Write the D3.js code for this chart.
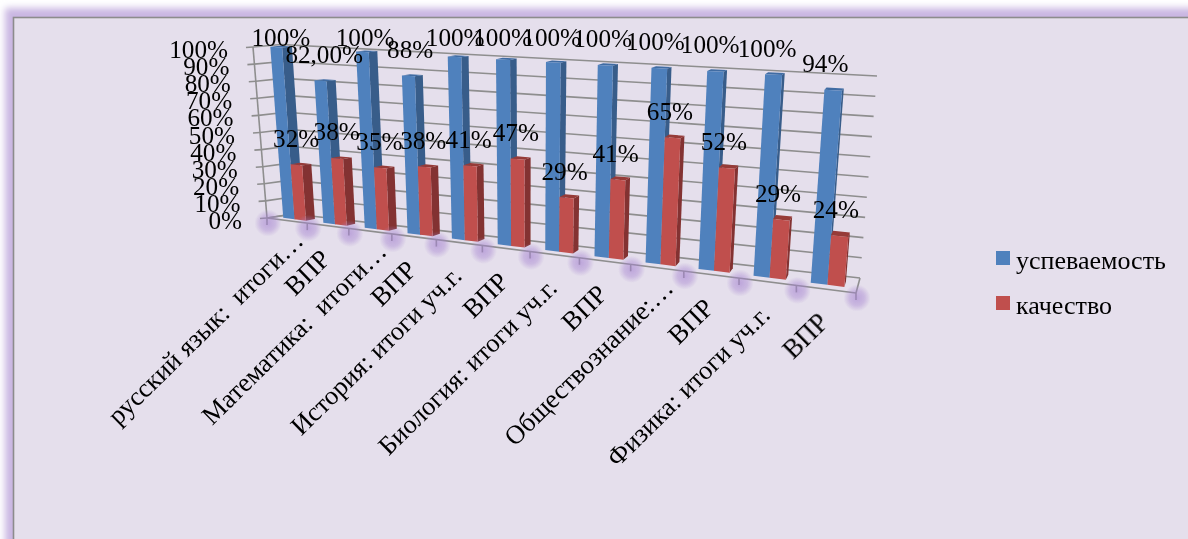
<!DOCTYPE html>
<html><head><meta charset="utf-8">
<script src="https://cdn.jsdelivr.net/npm/d3@7"></script>
<style>html,body{margin:0;padding:0;background:#fff;overflow:hidden}svg{display:block}
text{font-family:"Liberation Serif","Times New Roman",serif;fill:#000;white-space:pre}</style></head>
<body><div id="c"></div>
<script>
const categories = ["русский язык:  итоги…","ВПР","Математика:  итоги…","ВПР","История: итоги уч.г.","ВПР","Биология: итоги уч.г.","ВПР","Обществознание:…","ВПР","Физика: итоги уч.г.","ВПР"];
const seriesNames = ["успеваемость","качество"];
const uspevaemost = [1,0.82,1,0.88,1,1,1,1,1,1,1,0.94];
const kachestvo = [0.32,0.38,0.35,0.38,0.41,0.47,0.29,0.41,0.65,0.52,0.29,0.24];
const uspevLabels = ["100%","82,00%","100%","88%","100%","100%","100%","100%","100%","100%","100%","94%"];
const kachLabels = ["32%","38%","35%","38%","41%","47%","29%","41%","65%","52%","29%","24%"];
const valueTicks = [0,0.1,0.2,0.3,0.4,0.5,0.6,0.7,0.8,0.9,1];
const tickFormat = d3.format(".0%");

const W=1188,H=539;
const svg=d3.select("#c").append("svg").attr("width",W).attr("height",H);
const defs=svg.append("defs");
defs.append("filter").attr("id","glow").attr("x","-5%").attr("y","-5%").attr("width","110%").attr("height","110%")
  .append("feGaussianBlur").attr("stdDeviation",3.5);
defs.append("filter").attr("id","soft").attr("x","-2%").attr("y","-2%").attr("width","104%").attr("height","104%")
  .append("feGaussianBlur").attr("stdDeviation",0.4);
const rg=defs.append("radialGradient").attr("id","blob");
rg.append("stop").attr("offset","0%").attr("stop-color","#a583d0").attr("stop-opacity",.62);
rg.append("stop").attr("offset","55%").attr("stop-color","#a583d0").attr("stop-opacity",.42);
rg.append("stop").attr("offset","100%").attr("stop-color","#a583d0").attr("stop-opacity",0);

// frame
svg.append("rect").attr("x",5).attr("y",8).attr("width",W+40).attr("height",H+40).attr("fill","#c9b6e2").attr("filter","url(#glow)");
svg.append("rect").attr("x",13.5).attr("y",17.5).attr("width",W+40).attr("height",H+40).attr("fill","#e5dfec").attr("stroke","#8c8c8c").attr("stroke-width",1.6);

const root=svg.append("g").attr("filter","url(#soft)");

// 3D box: corners on screen; u = category coordinate, v = value, d = depth
const uScale=d3.scaleLinear().domain([0,categories.length]).range([0,1]);
const persp=u=>{const t=uScale(u);return t*0.807/(1-0.193*t);};
const vScale=d3.scaleLinear().domain([0,1]).range([0,1]);
const box={fb0:[267,218],fb1:[856,293],bb0:[293,214],bb1:[860,278],ft0:[253,47],ft1:[873,82],bt0:[281,44.5],bt1:[877,76]};
const mix=(a,b,t)=>[a[0]+(b[0]-a[0])*t,a[1]+(b[1]-a[1])*t];
function P(u,v,d){
  const s=persp(u),w=vScale(v);
  const fb=mix(box.fb0,box.fb1,s),bb=mix(box.bb0,box.bb1,s),ft=mix(box.ft0,box.ft1,s),bt=mix(box.bt0,box.bt1,s);
  return mix(mix(fb,ft,w),mix(bb,bt,w),d);
}
const line=pts=>d3.line()(pts);
const gridC="#8e8e8e";
const n=categories.length;

// walls
const grid=root.append("g").attr("fill","none").attr("stroke",gridC).attr("stroke-width",1.6);
grid.selectAll("path.back").data(valueTicks).join("path").attr("class","back").attr("d",v=>line([P(0,v,1),P(n,v,1)]));
grid.selectAll("path.side").data(valueTicks).join("path").attr("class","side").attr("d",v=>line([P(0,v,0),P(0,v,1)]));
grid.selectAll("path.tick").data(valueTicks).join("path").attr("class","tick").attr("d",v=>{const p=P(0,v,0);return line([[p[0]-7,p[1]+0.5],p]);});
grid.append("path").attr("d",line([P(0,1,0),P(0,0,0)]));
grid.append("path").attr("d",line([P(0,0,0),P(0,0,1)]));
grid.append("path").attr("d",line([P(n,0,1),P(n,0,0)]));
grid.append("path").attr("d",line([P(n,0,0),P(0,0,0)]));
grid.selectAll("path.xt").data(d3.range(n+1)).join("path").attr("class","xt").attr("d",i=>{const p=P(i,0,0);return line([p,[p[0],p[1]+7]]);});

// bars
const band=d3.scaleBand().domain(d3.range(n)).range([0,n]).paddingInner(0.43).paddingOuter(0.215);
const sub=d3.scaleBand().domain(seriesNames).range([0,band.bandwidth()]);
const dNear=0.3,dFar=0.66;
const colors={"успеваемость":{front:"#4f81bd",side:"#385d8a",top:"#3f6ca3"},"качество":{front:"#c0504d",side:"#833230",top:"#963a37"}};
const rows=[];
categories.forEach((c,i)=>{
  rows.push({i,s:seriesNames[0],v:uspevaemost[i],label:uspevLabels[i]});
  rows.push({i,s:seriesNames[1],v:kachestvo[i],label:kachLabels[i]});
});
const poly=pts=>"M"+pts.map(p=>p.join(",")).join("L")+"Z";
const gb=root.append("g").selectAll("g").data(rows).join("g");
gb.each(function(r){
  const g=d3.select(this),a=band(r.i)+sub(r.s),b=a+sub.bandwidth(),c=colors[r.s];
  g.append("path").attr("fill",c.side).attr("d",poly([P(b,0,dNear),P(b,r.v,dNear),P(b,r.v,dFar),P(b,0,dFar)]));
  g.append("path").attr("fill",c.top).attr("d",poly([P(a,r.v,dNear),P(b,r.v,dNear),P(b,r.v,dFar),P(a,r.v,dFar)]));
  g.append("path").attr("fill",c.front).attr("d",poly([P(a,0,dNear),P(b,0,dNear),P(b,r.v,dNear),P(a,r.v,dNear)]));
});

// glow blobs at category ticks
root.append("g").selectAll("circle").data(d3.range(n+1)).join("circle")
  .attr("cx",i=>P(i,0,0)[0]+1).attr("cy",i=>P(i,0,0)[1]+5).attr("r",13.5).attr("fill","url(#blob)");

// value axis labels
root.append("g").selectAll("text").data(valueTicks).join("text")
  .attr("x",v=>P(0,v,0)[0]-25).attr("y",v=>P(0,v,0)[1]+11).attr("text-anchor","end").attr("font-size",25.2).text(tickFormat);

// data labels
root.append("g").selectAll("text").data(rows).join("text")
  .attr("text-anchor","middle").attr("font-size",25.2)
  .attr("x",r=>{const m=band(r.i)+sub(r.s)+sub.bandwidth()/2,p=P(m,r.v,dNear),s=persp(m);
    return p[0]+(r.s===seriesNames[0]?5-13.7*s:-4*s);})
  .attr("y",r=>{const m=band(r.i)+sub(r.s)+sub.bandwidth()/2,p=P(m,r.v,dNear);return Math.max(38,p[1]-26)+8;})
  .text(r=>r.label);

// category labels
root.append("g").selectAll("text").data(categories).join("text")
  .attr("text-anchor","end").attr("font-size",26.5)
  .attr("transform",(c,i)=>{const p=P(i+0.5,0,0),e=c.endsWith("…");return `translate(${p[0]+(e?18:4)},${p[1]+(e?22:35)}) rotate(-44.5)`;})
  .text(c=>c);

// legend
const leg=root.append("g").selectAll("g").data(seriesNames).join("g").attr("transform",(s,i)=>`translate(996,${251+i*45})`);
leg.append("rect").attr("width",14).attr("height",14).attr("fill",s=>colors[s].front);
leg.append("text").attr("x",20).attr("y",17.5).attr("font-size",26).text(s=>s);
</script></body></html>
